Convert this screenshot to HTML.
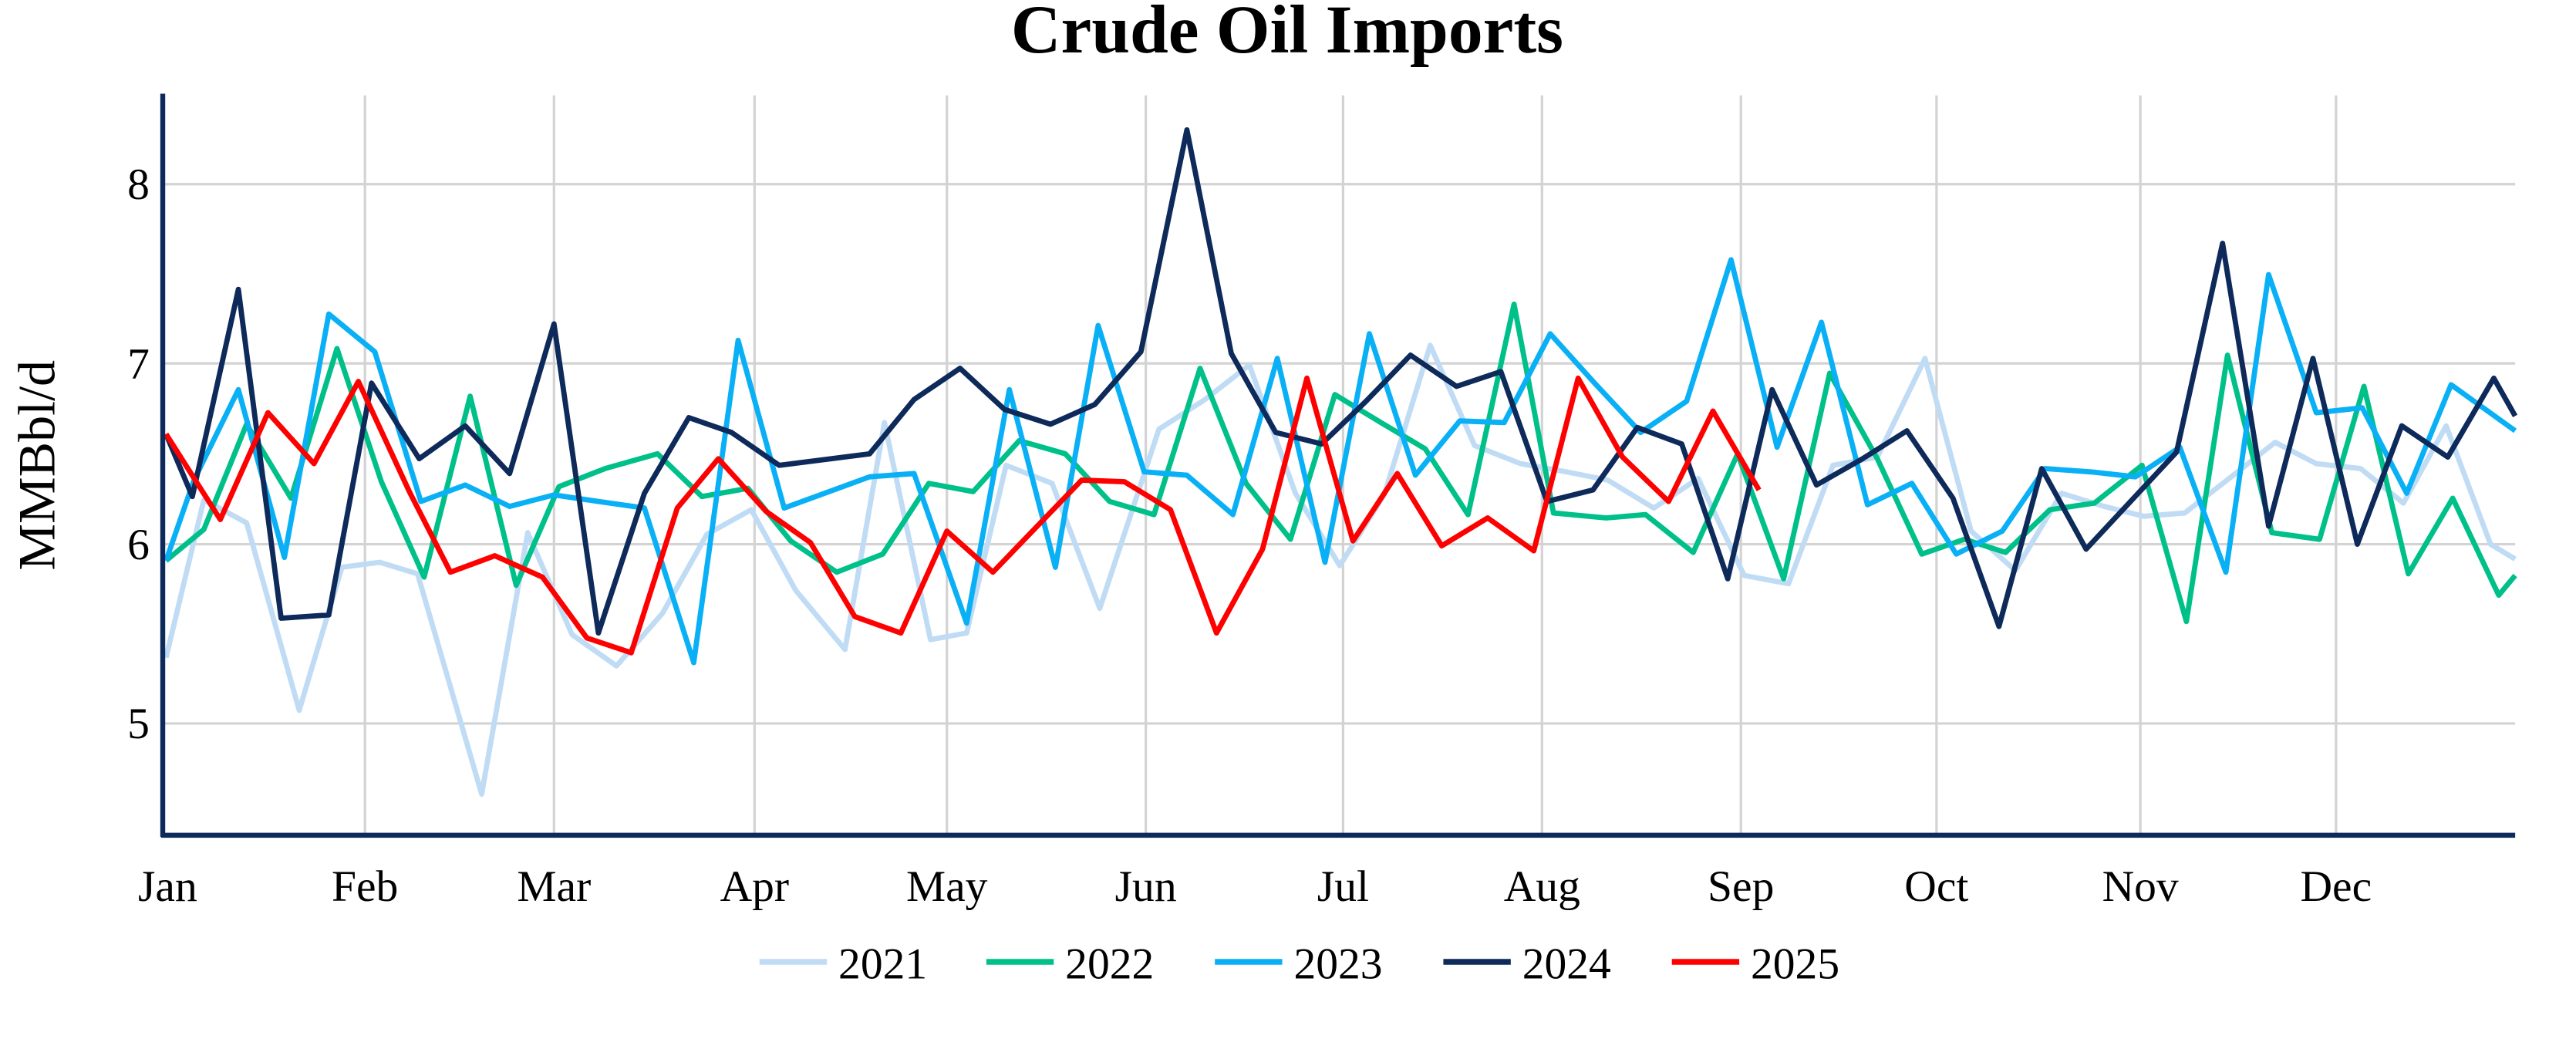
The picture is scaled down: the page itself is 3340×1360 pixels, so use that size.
<!DOCTYPE html>
<html><head><meta charset="utf-8"><style>
html,body{margin:0;padding:0;background:#fff;}
svg{display:block;}
text{font-family:"Liberation Serif",serif;fill:#000;}
</style></head><body>
<svg width="3340" height="1360" viewBox="0 0 1567 638" preserveAspectRatio="none" xmlns="http://www.w3.org/2000/svg">
<rect width="1567" height="638" fill="#fff"/>
<text x="783" y="32" font-size="42" font-weight="bold" text-anchor="middle">Crude Oil Imports</text>
<g stroke="#d3d3d3" stroke-width="1.5">
<line x1="99" x2="1530" y1="112" y2="112"/><line x1="99" x2="1530" y1="221" y2="221"/>
<line x1="99" x2="1530" y1="331" y2="331"/><line x1="99" x2="1530" y1="440" y2="440"/>
<line x1="222" x2="222" y1="58" y2="508"/><line x1="337" x2="337" y1="58" y2="508"/>
<line x1="459" x2="459" y1="58" y2="508"/><line x1="576" x2="576" y1="58" y2="508"/>
<line x1="697" x2="697" y1="58" y2="508"/><line x1="817" x2="817" y1="58" y2="508"/>
<line x1="938" x2="938" y1="58" y2="508"/><line x1="1059" x2="1059" y1="58" y2="508"/>
<line x1="1178" x2="1178" y1="58" y2="508"/><line x1="1302" x2="1302" y1="58" y2="508"/>
<line x1="1421" x2="1421" y1="58" y2="508"/>
</g>
<g font-size="27" text-anchor="end">
<text x="91" y="121">8</text><text x="91" y="230">7</text><text x="91" y="340">6</text><text x="91" y="449">5</text>
</g>
<text transform="translate(33,283) rotate(-90)" font-size="32" text-anchor="middle">MMBbl/d</text>
<g font-size="27" text-anchor="middle">
<text x="102" y="548">Jan</text><text x="222" y="548">Feb</text><text x="337" y="548">Mar</text><text x="459" y="548">Apr</text>
<text x="576" y="548">May</text><text x="697" y="548">Jun</text><text x="817" y="548">Jul</text><text x="938" y="548">Aug</text>
<text x="1059" y="548">Sep</text><text x="1178" y="548">Oct</text><text x="1302" y="548">Nov</text><text x="1421" y="548">Dec</text>
</g>
<g fill="none" stroke-width="3.2" stroke-linejoin="round">
<polyline stroke="#c0dcf5" points="101,400 124,304 150,318 182,432 208,345 231,342 254,349 293,483 321,324 348,386 375,405 403,373 430,325 457,310 484,359 514,395 538,257 566,389 588,385 612,283 640,294 669,370 705,261 733,243 760,222 788,300 815,344 842,301 870,210 897,271 925,282 953,287 978,292 1006,309 1033,291 1061,350 1088,355 1115,283 1142,278 1171,218 1199,323 1226,347 1254,300 1280,308 1304,314 1329,312 1356,291 1384,269 1409,282 1436,285 1462,306 1488,259 1515,331 1530,340"/>
<polyline stroke="#00c08a" points="101,341 124,322 150,258 177,303 205,212 232,293 258,351 286,241 314,356 340,296 368,285 400,276 427,302 455,297 481,329 509,348 537,337 565,294 592,299 620,268 648,276 675,305 702,313 730,224 758,294 785,328 812,240 840,257 867,273 893,313 921,185 945,312 977,315 1001,313 1030,336 1057,276 1085,352 1113,227 1142,279 1169,337 1195,328 1220,336 1247,310 1274,306 1303,283 1330,378 1355,216 1382,324 1411,328 1438,235 1465,349 1492,303 1520,362 1530,350"/>
<polyline stroke="#0ab0f5" points="101,341 118,292 145,237 173,339 200,191 228,214 256,305 283,295 310,308 337,301 364,305 392,309 422,403 449,207 477,309 529,290 556,288 588,379 614,237 642,345 668,198 696,287 722,289 750,313 777,218 806,342 833,203 861,289 888,256 915,257 943,203 970,233 998,263 1026,244 1053,158 1081,272 1108,196 1136,307 1163,294 1190,337 1218,323 1244,285 1272,287 1299,290 1326,272 1354,348 1380,167 1409,251 1437,248 1464,300 1491,234 1530,262"/>
<polyline stroke="#0d2a5a" points="101,264 117,302 145,176 171,376 200,374 226,233 255,279 283,259 310,288 337,197 364,385 392,300 419,254 445,263 474,283 529,276 556,243 584,224 611,249 639,258 666,246 694,214 722,79 749,215 776,263 804,270 831,244 858,216 886,235 913,226 941,305 969,298 996,260 1023,270 1051,352 1078,237 1105,295 1133,279 1160,262 1188,303 1216,381 1242,285 1269,334 1296,305 1324,275 1352,148 1380,320 1407,218 1434,331 1461,259 1489,278 1517,230 1530,253"/>
<polyline stroke="#ff0000" points="101,264 134,316 163,251 191,282 218,232 249,299 274,348 301,338 330,351 357,388 384,397 412,309 437,279 466,311 493,330 520,375 548,385 576,323 604,348 630,321 658,292 684,293 712,310 740,385 768,334 795,230 823,329 850,288 877,332 905,315 933,335 960,230 987,278 1015,305 1042,250 1070,298"/>
</g>
<line x1="99" x2="99" y1="57" y2="509" stroke="#0d2a5a" stroke-width="3"/>
<line x1="98" x2="1530" y1="508" y2="508" stroke="#0d2a5a" stroke-width="3"/>
<g stroke-width="3.5">
<line x1="462" x2="503" y1="585" y2="585" stroke="#c0dcf5"/>
<line x1="600" x2="641" y1="585" y2="585" stroke="#00c08a"/>
<line x1="739" x2="780" y1="585" y2="585" stroke="#0ab0f5"/>
<line x1="878" x2="919" y1="585" y2="585" stroke="#0d2a5a"/>
<line x1="1017" x2="1058" y1="585" y2="585" stroke="#ff0000"/>
</g>
<g font-size="27">
<text x="510" y="595">2021</text><text x="648" y="595">2022</text><text x="787" y="595">2023</text><text x="926" y="595">2024</text><text x="1065" y="595">2025</text>
</g>
</svg>
</body></html>
